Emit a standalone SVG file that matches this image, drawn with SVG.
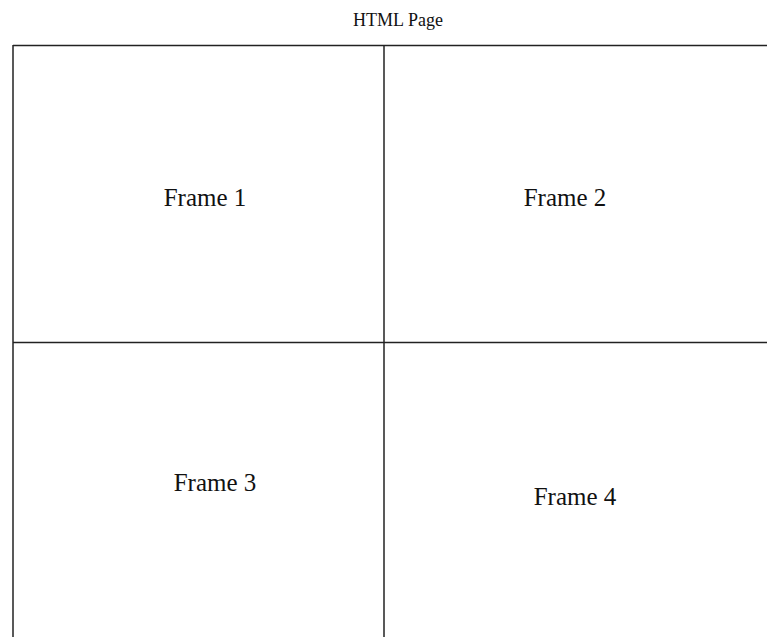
<svg xmlns="http://www.w3.org/2000/svg" width="767" height="637" viewBox="0 0 767 637">
  <style>
    .rule { stroke: #222; stroke-width: 1.5; fill: none; }
    .title { font-family: "Liberation Serif", "Times New Roman", serif; font-size: 18px; fill: #111; text-anchor: middle; }
    .label { font-family: "Liberation Serif", "Times New Roman", serif; font-size: 25px; fill: #111; text-anchor: middle; }
  </style>
  <rect width="767" height="637" fill="#fff"/>
  <text class="title" x="398" y="26">HTML Page</text>
  <g id="connectors">
    <line class="rule" x1="13" y1="45.5" x2="767" y2="45.5"/>
    <line class="rule" x1="13" y1="342.5" x2="767" y2="342.5"/>
    <line class="rule" x1="13" y1="45" x2="13" y2="637"/>
    <line class="rule" x1="384" y1="45" x2="384" y2="637"/>
  </g>
  <g id="frame1"><text class="label" x="205" y="206">Frame 1</text></g>
  <g id="frame2"><text class="label" x="565" y="206">Frame 2</text></g>
  <g id="frame3"><text class="label" x="215" y="491">Frame 3</text></g>
  <g id="frame4"><text class="label" x="575" y="505">Frame 4</text></g>
</svg>
